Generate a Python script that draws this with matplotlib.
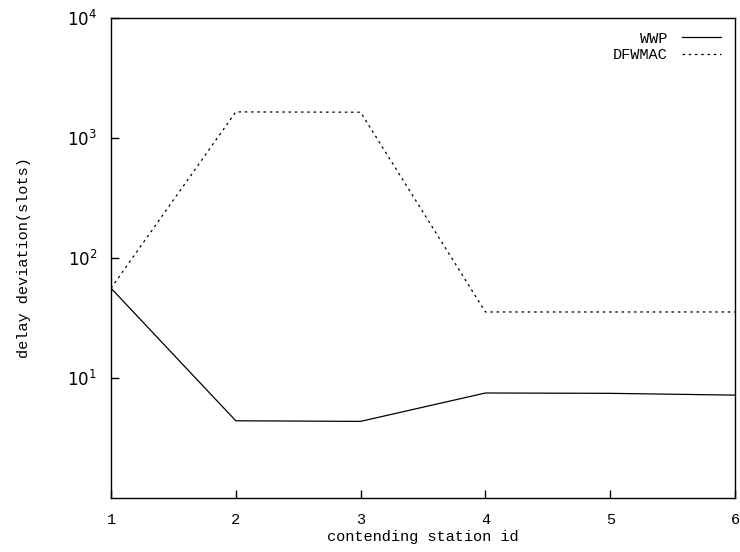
import matplotlib
matplotlib.use('Agg')
import matplotlib.pyplot as plt
from matplotlib.ticker import NullLocator, FixedLocator

plt.rcParams['font.family'] = 'Liberation Mono'
plt.rcParams['font.size'] = 11

station = [1, 2, 3, 4, 5, 6]
wwp = [56, 4.4, 4.35, 7.5, 7.45, 7.2]
dfwmac = [56, 1650, 1640, 35.5, 35.5, 35.5]

fig = plt.figure(figsize=(7.4, 5.52), dpi=100)
ax = fig.add_axes([111 / 740, 1 - 498 / 552, (735 - 111) / 740, (498 - 18) / 552])

ax.plot(station, wwp, color='black', lw=0.9, label='WWP')
ax.plot(station, dfwmac, color='black', lw=0.9, linestyle=(0, (2, 3)), label='DFWMAC')

ax.set_yscale('log')
ax.set_xlim(1, 6)
ax.set_ylim(1, 1e4)
ax.yaxis.set_major_locator(FixedLocator([10, 100, 1000, 10000]))
ax.yaxis.set_minor_locator(NullLocator())
ax.set_xticks(station)
for lbl in ax.get_yticklabels():
    lbl.set_fontfamily('DejaVu Sans')
ax.tick_params(direction='in', length=6, width=1, top=False, right=False)
ax.tick_params(axis='x', pad=11)
ax.tick_params(axis='y', labelsize=12, pad=10)

for s in ax.spines.values():
    s.set_linewidth(1)

ax.set_xlabel('contending station id', labelpad=2)
ax.set_ylabel('delay deviation(slots)', labelpad=26)

ax.legend(loc='upper right', frameon=False, markerfirst=False, handlelength=2.6,
          borderaxespad=0.5, labelspacing=0.15, handletextpad=0.9)

fig.savefig('out.png', dpi=100)
